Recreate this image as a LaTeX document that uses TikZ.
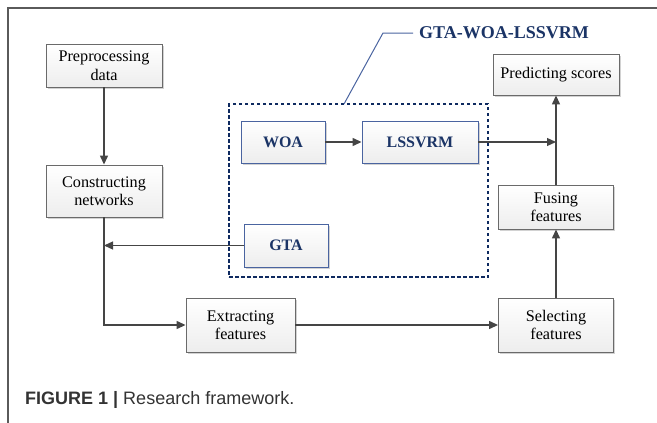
\documentclass[tikz,border=0pt]{standalone}
\usepackage{fontspec}
\setmainfont{Liberation Serif}
\newfontfamily\capfont{Liberation Sans}
\usepackage{tikz}
\usetikzlibrary{arrows.meta, positioning, shadows}
\definecolor{navytext}{HTML}{1B3466}
\definecolor{navyline}{HTML}{4A64A0}
\definecolor{navydots}{HTML}{0E2A60}
\definecolor{linegray}{HTML}{454545}
\definecolor{framegray}{HTML}{5A5A5A}

\tikzset{
  stepbox/.style={draw=linegray!80, line width=0.9pt, top color=white, bottom color=gray!14,
    drop shadow={shadow xshift=1.8pt, shadow yshift=-1.8pt, fill=gray!35, opacity=1},
    align=center, inner sep=2pt, font=\fontsize{16.2}{18.5}\selectfont},
  algobox/.style={stepbox, draw=navyline, text=navytext, font=\fontsize{16}{18.5}\selectfont\bfseries},
  arr/.style={draw=linegray, line width=1.3pt, -{Triangle[length=9pt, width=8pt]}},
}

\begin{document}
\begin{tikzpicture}[x=1pt, y=-1pt]
  \useasboundingbox (0,0) rectangle (657,423);

  % figure frame
  \draw[framegray, line width=1.2pt] (8,423) -- (8,8) -- (657,8);

  % left column
  \node[stepbox, minimum width=116pt, minimum height=43pt] (prep) at (104,65.5) {Preprocessing\\data};
  \node[stepbox, minimum width=116pt, minimum height=52pt] (cons) at (104,191) {Constructing\\networks};

  % GTA-WOA-LSSVRM group
  \node[draw=navydots, line width=2pt, dash pattern=on 3.5pt off 2.5pt,
        minimum width=259pt, minimum height=173pt] (grp) at (358.5,190.5) {};
  \node[algobox, minimum width=84pt, minimum height=42pt] (woa) at (283,142) {WOA};
  \node[algobox, minimum width=116pt, minimum height=42pt] (lss) at (420,142) {LSSVRM};
  \node[algobox, minimum width=84pt, minimum height=43pt] (gta) at (286,245.5) {GTA};
  \node[text=navytext, font=\fontsize{18}{20}\selectfont\bfseries, anchor=west, inner sep=0pt] (glabel) at (419,33) {GTA-WOA-LSSVRM};
  \coordinate (bend) at (383,33);
  \coordinate (tip) at (344,104);
  \draw[navyline, line width=1pt] (glabel.west) ++(-6pt,0) -- (bend) -- (tip);

  % right column
  \node[stepbox, minimum width=126pt, minimum height=41pt] (pred) at (556,74.5) {Predicting scores};
  \node[stepbox, minimum width=115pt, minimum height=44pt] (fuse) at (556,207) {Fusing\\features};
  \node[stepbox, minimum width=115pt, minimum height=54pt] (sel) at (556,325) {Selecting\\features};

  % bottom
  \node[stepbox, minimum width=109pt, minimum height=54pt] (extr) at (240.5,325) {Extracting\\features};

  % connectors
  \draw[arr] (prep) -- (cons);
  \draw[arr] (cons.south) |- (extr.west);
  \draw[arr] (gta.west) -- (gta.west -| cons.south);
  \draw[arr] (woa) -- (lss);
  \draw[arr] (lss.east) -- (lss.east -| pred.south);
  \draw[arr] (fuse) -- (pred);
  \draw[arr] (sel) -- (fuse);
  \draw[arr] (extr) -- (sel);

  % caption
  \node[anchor=west, inner sep=0pt, text=black!80, font=\capfont\fontsize{18}{20}\selectfont] (cap) at (25,400)
    {\textbf{FIGURE 1 |} Research framework.};
\end{tikzpicture}
\end{document}
